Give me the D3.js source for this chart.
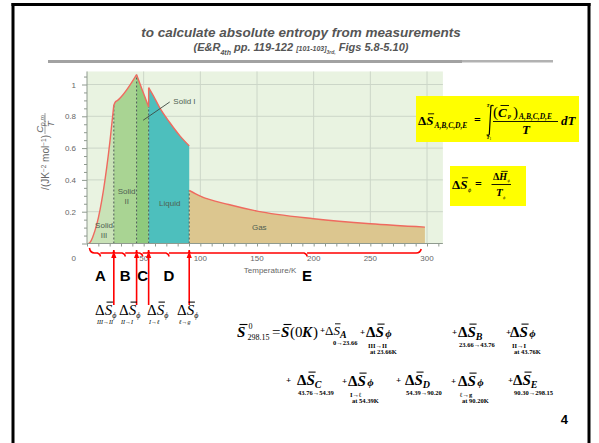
<!DOCTYPE html>
<html>
<head>
<meta charset="utf-8">
<script src="https://cdn.jsdelivr.net/npm/d3@7"></script>
<style>
  body { margin: 0; background: #fff; }
  svg { display: block; }
  .sans { font-family: "Liberation Sans", Arial, sans-serif; }
  .serif { font-family: "Liberation Serif", "Times New Roman", serif; }
</style>
</head>
<body>
<svg id="slide" width="599" height="443"></svg>
<script>
// heat capacity curve (T in K, Cp/T in J K^-2 mol^-1)
var phases = ["Solid III", "Solid II", "Solid I", "Liquid", "Gas"];
var transT = [23.66, 43.76, 54.39, 90.20];
var rangeT = [0, 298.15];
var solid3T = [1.5, 3, 5, 8.6, 14.4, 20.3, 23.66];
var solid3Cp = [0, 0.01, 0.04, 0.12, 0.33, 0.645, 0.87];
var solid2T = [23.66, 25, 27, 43.76];
var solid2Cp = [0.87, 0.89, 0.90, 1.062];
var solid1T = [43.76, 49, 54.39];
var solid1Cp = [1.062, 0.96, 0.86];
var liquidT = [54.39, 60, 64, 73, 82, 90.2];
var liquidCp = [0.98, 0.91, 0.856, 0.761, 0.677, 0.614];
var gasT = [90.2, 100, 125, 150, 200, 250, 298.15];
var gasCp = [0.334, 0.298, 0.245, 0.204, 0.156, 0.124, 0.103];
var xTickLabels = [0, 50, 100, 150, 200, 250, 300];
var yTickLabels = [0.2, 0.4, 0.6, 0.8, 1];
var segLetters = ["A", "B", "C", "D", "E"];
var phiSubs = ["III\u2192II", "II\u2192I", "I\u2192\u2113", "\u2113\u2192g"];

var phaseFill = ["#c9e2b7", "#a9d493", "#8fca7d", "#4dbfbd", "#dcc68f"];

var svg = d3.select("#slide");

svg.append("text").attr("class", "sans")
  .attr("x", 301).attr("y", 37).attr("text-anchor", "middle")
  .style("font-size", "13.5px").style("font-weight", "bold").style("font-style", "italic")
  .attr("fill", "#555")
  .text("to calculate absolute entropy from measurements");

var sub = svg.append("text").attr("class", "sans")
  .attr("x", 301).attr("y", 51).attr("text-anchor", "middle")
  .style("font-size", "11px").style("font-weight", "bold").style("font-style", "italic")
  .attr("fill", "#555");
sub.append("tspan").text("(E&R");
sub.append("tspan").attr("baseline-shift", "sub").style("font-size", "7px").text("4th");
sub.append("tspan").text(" pp. 119-122 ");
sub.append("tspan").style("font-size", "7px").text("[101-103]");
sub.append("tspan").attr("baseline-shift", "sub").style("font-size", "5px").text("3rd,");
sub.append("tspan").text(" Figs 5.8-5.10)");

// ---- chart ----
var x = d3.scaleLinear().domain([0, 300]).range([87, 427]);
var y = d3.scaleLinear().domain([0, 1]).range([243.5, 84.5]);
var xMax = 314, yMax = 1.082;

var chart = svg.append("g");

chart.append("rect")
  .attr("x", x(0)).attr("y", y(yMax))
  .attr("width", x(xMax) - x(0)).attr("height", y(0) - y(yMax))
  .attr("fill", "#e9f3e1");

chart.append("g").selectAll("line").data(yTickLabels).join("line")
  .attr("x1", x(0)).attr("x2", x(xMax))
  .attr("y1", d => y(d)).attr("y2", d => y(d))
  .attr("stroke", "#ccd6c8").attr("stroke-width", 1);
chart.append("g").selectAll("line").data(xTickLabels.slice(1)).join("line")
  .attr("x1", d => x(d)).attr("x2", d => x(d))
  .attr("y1", y(yMax)).attr("y2", y(0))
  .attr("stroke", "#ccd6c8").attr("stroke-width", 1);

function zipPts(ts, vs) { return ts.map((t, i) => [t, vs[i]]); }
var phasePts = [
  zipPts(solid3T, solid3Cp), zipPts(solid2T, solid2Cp), zipPts(solid1T, solid1Cp),
  zipPts(liquidT, liquidCp), zipPts(gasT, gasCp)
];

var area = d3.area().curve(d3.curveMonotoneX)
  .x(d => x(d[0])).y0(y(0)).y1(d => y(d[1]));
var line = d3.line().curve(d3.curveMonotoneX)
  .x(d => x(d[0])).y(d => y(d[1]));

chart.append("g").selectAll("path").data(phasePts).join("path")
  .attr("d", area)
  .attr("fill", (d, i) => phaseFill[i]);

// dashed phase boundaries
chart.append("g").selectAll("line").data(transT).join("line")
  .attr("x1", d => x(d)).attr("x2", d => x(d))
  .attr("y1", y(0))
  .attr("y2", (d, i) => y(Math.min(phasePts[i][phasePts[i].length - 1][1], phasePts[i + 1][0][1])))
  .attr("stroke", "#4d5a55").attr("stroke-width", 1).attr("stroke-dasharray", "2,2");

// red curve
chart.append("g").selectAll("path").data(phasePts).join("path")
  .attr("d", line)
  .attr("fill", "none").attr("stroke", "#ef6a5f").attr("stroke-width", 1.4);
chart.append("line")
  .attr("x1", x(transT[2])).attr("x2", x(transT[2]))
  .attr("y1", y(solid1Cp[solid1Cp.length - 1])).attr("y2", y(liquidCp[0]))
  .attr("stroke", "#ef6a5f").attr("stroke-width", 1.4);

// axes
var yAxis = d3.axisLeft(y).tickValues(d3.range(0, 1.0501, 0.05)).tickSize(3).tickFormat("");
var yAxG = chart.append("g").attr("transform", "translate(" + x(0) + ",0)").call(yAxis);
yAxG.select(".domain").attr("d", "M0," + y(yMax) + "V" + y(0)).attr("stroke", "#8f9a8f");
yAxG.selectAll(".tick line").attr("stroke", "#8f9a8f");
yAxG.selectAll(".tick").filter(d => Math.abs(d * 5 - Math.round(d * 5)) < 1e-6)
  .select("line").attr("x2", -5);

var xAxis = d3.axisBottom(x).tickValues(d3.range(0, 311, 10)).tickSize(3).tickFormat("");
var xAxG = chart.append("g").attr("transform", "translate(0," + y(0) + ")").call(xAxis);
xAxG.select(".domain").attr("d", "M" + x(0) + ",0H" + x(xMax)).attr("stroke", "#8f9a8f");
xAxG.selectAll(".tick line").attr("stroke", "#8f9a8f");

chart.append("g").selectAll("text").data(yTickLabels).join("text")
  .attr("class", "sans").attr("x", 76).attr("y", d => y(d) + 3)
  .attr("text-anchor", "end").style("font-size", "8px").attr("fill", "#666")
  .text(d => d === 1 ? "1" : d3.format(".1f")(d));
chart.append("g").selectAll("text").data(xTickLabels).join("text")
  .attr("class", "sans")
  .attr("x", d => d === 0 ? 76 : x(d)).attr("y", 261)
  .attr("text-anchor", d => d === 0 ? "end" : "middle")
  .style("font-size", "8px").attr("fill", "#666")
  .text(d => d);

chart.append("text").attr("class", "sans")
  .attr("x", 270).attr("y", 273).attr("text-anchor", "middle")
  .style("font-size", "8px").attr("fill", "#666").text("Temperature/K");

// y axis title (rotated)
var yt = chart.append("g").attr("class", "sans").attr("transform", "translate(46,168) rotate(-90)")
  .style("font-size", "9.5px").attr("fill", "#666");
var num = yt.append("text").attr("x", 44).attr("y", -3.5).attr("text-anchor", "middle").style("font-style", "italic");
num.append("tspan").text("C");
num.append("tspan").attr("dy", 2).style("font-size", "6.5px").text("p,m");
yt.append("line").attr("x1", 34).attr("x2", 55).attr("y1", -1).attr("y2", -1).attr("stroke", "#666").attr("stroke-width", 0.6);
yt.append("text").attr("x", 44).attr("y", 8).attr("text-anchor", "middle").style("font-style", "italic").text("T");
var un = yt.append("text").attr("x", 33).attr("y", 3).attr("text-anchor", "end").style("font-size", "10px");
un.append("tspan").text("/(JK");
un.append("tspan").attr("dy", -3).style("font-size", "6.5px").text("\u22122");
un.append("tspan").attr("dy", 3).text(" mol");
un.append("tspan").attr("dy", -3).style("font-size", "6.5px").text("\u22121");
un.append("tspan").attr("dy", 3).text(")");

// phase labels
var lab = chart.append("g").attr("class", "sans").style("font-size", "8px").attr("fill", "#4f5f52")
  .attr("text-anchor", "middle");
lab.append("text").attr("x", x(15)).attr("y", 228).text("Solid");
lab.append("text").attr("x", x(15)).attr("y", 238).text("III");
lab.append("text").attr("x", x(35)).attr("y", 194).text("Solid");
lab.append("text").attr("x", x(35)).attr("y", 204).text("II");
lab.append("text").attr("x", x(73)).attr("y", 206).text("Liquid");
lab.append("text").attr("x", x(152)).attr("y", 230).text("Gas");
lab.append("text").attr("x", x(86)).attr("y", 104).text("Solid I");
chart.append("line").attr("x1", x(49.5)).attr("y1", y(0.775)).attr("x2", x(73)).attr("y2", y(0.89))
  .attr("stroke", "#3d4a42").attr("stroke-width", 0.9);

// ---- red braces, arrows, segment letters ----
var segEdges = [rangeT[0]].concat(transT, [rangeT[1]]);
var red = svg.append("g").attr("stroke", "#f00").attr("fill", "none").attr("stroke-width", 1.6);
var bp = d3.path();
var yb = 253;
bp.moveTo(x(3) - 1, yb - 5);
bp.quadraticCurveTo(x(3), yb, x(3) + 4, yb);
for (var i = 0; i < segEdges.length - 1; i++) {
  var b = i === segEdges.length - 2 ? x(294) : x(segEdges[i + 1]) - 1.5;
  var m = (x(segEdges[i]) + x(segEdges[i + 1])) / 2;
  bp.lineTo(m - 3, yb);
  bp.quadraticCurveTo(m, yb + 1, m, yb + 3.5);
  bp.moveTo(m, yb);
  bp.quadraticCurveTo(m, yb, m + 3, yb);
  if (i < segEdges.length - 2) {
    bp.lineTo(b, yb);
    bp.quadraticCurveTo(x(segEdges[i + 1]), yb, x(segEdges[i + 1]), yb - 3);
    bp.moveTo(x(segEdges[i + 1]), yb - 3);
    bp.quadraticCurveTo(x(segEdges[i + 1]), yb, x(segEdges[i + 1]) + 1.5, yb);
  } else {
    bp.lineTo(b - 4, yb);
    bp.quadraticCurveTo(b, yb, b + 1, yb - 4);
  }
}
red.append("path").attr("d", bp.toString());

red.selectAll("line.arr").data(transT).join("line")
  .attr("x1", d => x(d)).attr("x2", d => x(d)).attr("y1", 305).attr("y2", 256);
svg.append("g").selectAll("path").data(transT).join("path")
  .attr("d", d => "M" + x(d) + ",251 l-2.6,7 h5.2 z").attr("fill", "#f00");

svg.append("g").attr("class", "sans").selectAll("text").data(segLetters).join("text")
  .attr("x", (d, i) => x((segEdges[i] + segEdges[i + 1]) / 2))
  .attr("y", 281).attr("text-anchor", "middle")
  .style("font-size", "15px").style("font-weight", "bold").attr("fill", "#000")
  .text(d => d);

// ---- equation helpers ----
function txt(g, x0, y0, size, s, style) {
  var t = g.append("text").attr("class", "serif").attr("x", x0).attr("y", y0)
    .style("font-size", size + "px").text(s);
  if (style) for (var k in style) t.style(k, style[k]);
  return t;
}
// "Δ" + barred italic letter, returns right edge
function deltaBar(g, x0, y0, size, bold, letter) {
  var d = txt(g, x0, y0, size, "\u0394", { "font-weight": bold ? "bold" : "normal" });
  var dw = d.node().getComputedTextLength();
  var s = txt(g, x0 + dw, y0, size, letter || "S",
    { "font-style": "italic", "font-weight": bold ? "bold" : "normal" });
  var sw = s.node().getComputedTextLength();
  g.append("line").attr("x1", x0 + dw + sw * 0.25).attr("x2", x0 + dw + sw * 1.1)
    .attr("y1", y0 - size * 0.86).attr("y2", y0 - size * 0.86)
    .attr("stroke", "#000").attr("stroke-width", Math.max(0.8, size * 0.07));
  return x0 + dw + sw;
}

var eq = svg.append("g").attr("fill", "#000");

// small labels under the arrows
var phiLabX = [95, 119, 147, 177];
phiLabX.forEach(function (lx, i) {
  var e = deltaBar(eq, lx, 315, 15, false);
  txt(eq, e, 318, 8, "\u03d5", { "font-style": "italic" });
  txt(eq, lx + 2, 323.5, 6, phiSubs[i], { "font-style": "italic" });
});

// yellow boxes
svg.append("rect").attr("x", 416).attr("y", 96).attr("width", 163).attr("height", 46).attr("fill", "#ffff00");
svg.append("rect").attr("x", 450).attr("y", 166).attr("width", 76).attr("height", 40).attr("fill", "#ffff00");

var bx = svg.append("g");
var bi = { "font-style": "italic", "font-weight": "bold" };
var e1 = deltaBar(bx, 418, 125, 13, true);
txt(bx, e1 + 1, 128, 7.5, "A,B,C,D,E", bi);
txt(bx, 474, 124, 12, "=", { "font-weight": "bold" });
bx.append("path").attr("d", "M493.5,106 q-1.6,-1.8 -2.6,0.6 l-1.6,27.6 q-0.9,2.2 -2.6,0.4")
  .attr("fill", "none").attr("stroke", "#000").attr("stroke-width", 1.2);
txt(bx, 486.5, 107, 5, "T", bi);
txt(bx, 489.5, 108, 3.5, "2", {});
txt(bx, 486.5, 139, 5, "T", bi);
txt(bx, 489.5, 140, 3.5, "1", {});
txt(bx, 493, 117, 15, "(", {});
txt(bx, 498, 117, 13, "C", bi);
bx.append("line").attr("x1", 500.5).attr("x2", 509).attr("y1", 105.5).attr("y2", 105.5).attr("stroke", "#000").attr("stroke-width", 0.9);
txt(bx, 507.5, 119, 5.5, "P", bi);
txt(bx, 513, 117, 15, ")", {});
txt(bx, 519, 119, 7.5, "A,B,C,D,E", bi);
bx.append("line").attr("x1", 493).attr("x2", 558).attr("y1", 121.5).attr("y2", 121.5).attr("stroke", "#000").attr("stroke-width", 0.9);
txt(bx, 522, 134, 13, "T", bi);
txt(bx, 561, 125, 13, "dT", bi);

var e2 = deltaBar(bx, 452, 189, 13, true);
txt(bx, e2 + 0.5, 192, 6, "\u03d5", { "font-style": "italic" });
txt(bx, 475, 188, 12, "=", { "font-weight": "bold" });
var e3 = deltaBar(bx, 493, 180, 10, true, "H");
txt(bx, e3 + 0.5, 182, 4.5, "\u03d5", { "font-style": "italic" });
bx.append("line").attr("x1", 491.5).attr("x2", 511).attr("y1", 184.5).attr("y2", 184.5).attr("stroke", "#000").attr("stroke-width", 0.9);
txt(bx, 496, 196, 11, "T", bi);
txt(bx, 503, 199, 4.5, "\u03d5", { "font-style": "italic" });

// main equation
var me = svg.append("g");
txt(me, 237, 337, 15, "S", bi);
me.append("line").attr("x1", 239.5).attr("x2", 247.5).attr("y1", 324.5).attr("y2", 324.5).attr("stroke", "#000").attr("stroke-width", 1.1);
txt(me, 248.5, 329, 8, "0", {});
txt(me, 247.5, 340, 8, "298.15", {});
txt(me, 272, 337, 15, "=", {});
txt(me, 281, 337, 15, "S", bi);
me.append("line").attr("x1", 283.5).attr("x2", 291.5).attr("y1", 324.5).attr("y2", 324.5).attr("stroke", "#000").attr("stroke-width", 1.1);
txt(me, 290, 337, 15, "(0", {});
txt(me, 302, 337, 15, "K", bi);
txt(me, 313, 337, 15, ")", {});

// terms of the sum
var termPlusX = [320, 360, 452, 506, 286, 342, 396, 451, 508];
var termX = [325, 366, 458, 510, 297, 348, 405, 458, 513];
var termRow = [335, 337, 337, 337, 385, 386, 385, 386, 385];
var termBold = [false, true, true, true, true, true, true, true, true];
var termSub = ["A", "\u03d5", "B", "\u03d5", "C", "\u03d5", "D", "\u03d5", "E"];
var termBelow = [
  ["0\u219223.66"], ["III\u2192II", "at 23.66K"], ["23.66\u219243.76"], ["II\u2192I", "at 43.76K"],
  ["43.76\u219254.39"], ["I\u2192\u2113", "at 54.39K"], ["54.39\u219290.20"], ["\u2113\u2192g", "at 90.20K"],
  ["90.30\u2192298.15"]
];

termX.forEach(function (tx, i) {
  var yb0 = termRow[i];
  var big = termBold[i] ? 15 : 13;
  txt(me, termPlusX[i], yb0 - 2, 9, "+", { "font-weight": "bold" });
  var e = deltaBar(me, tx, yb0, big, termBold[i]);
  var isPhi = termSub[i] === "\u03d5";
  txt(me, e + (isPhi ? 1.5 : 0), yb0 + (isPhi ? 0 : 2.5), isPhi ? 11 : 10, termSub[i], bi);
  var lines = termBelow[i];
  if (lines.length === 1) {
    txt(me, tx + (i === 0 ? 8 : 1), yb0 + 10, 6.5, lines[0], { "font-weight": "bold" });
  } else {
    txt(me, tx + 2, yb0 + 10.5, 6.5, lines[0], { "font-weight": "bold" });
    txt(me, tx + 4, yb0 + 17, 6.5, lines[1], { "font-weight": "bold" });
  }
});

// page number
svg.append("text").attr("class", "sans").attr("x", 568).attr("y", 424).attr("text-anchor", "end")
  .style("font-size", "13px").style("font-weight", "bold").text("4");

// slide frame and header rule
var frame = svg.append("g").attr("class", "frame");
frame.append("rect").attr("x", 48).attr("y", 60).attr("width", 414).attr("height", 3).attr("fill", "#a2a2a2");
frame.append("rect").attr("x", 462).attr("y", 60).attr("width", 91).attr("height", 2.5).attr("fill", "#b2b2b2");
frame.append("rect").attr("x", 11.5).attr("y", 3).attr("width", 3).attr("height", 440).attr("fill", "#000");
frame.append("rect").attr("x", 11.5).attr("y", 3).attr("width", 579).attr("height", 3).attr("fill", "#000");
frame.append("rect").attr("x", 587.5).attr("y", 3).attr("width", 3).attr("height", 440).attr("fill", "#000");
</script>
</body>
</html>
